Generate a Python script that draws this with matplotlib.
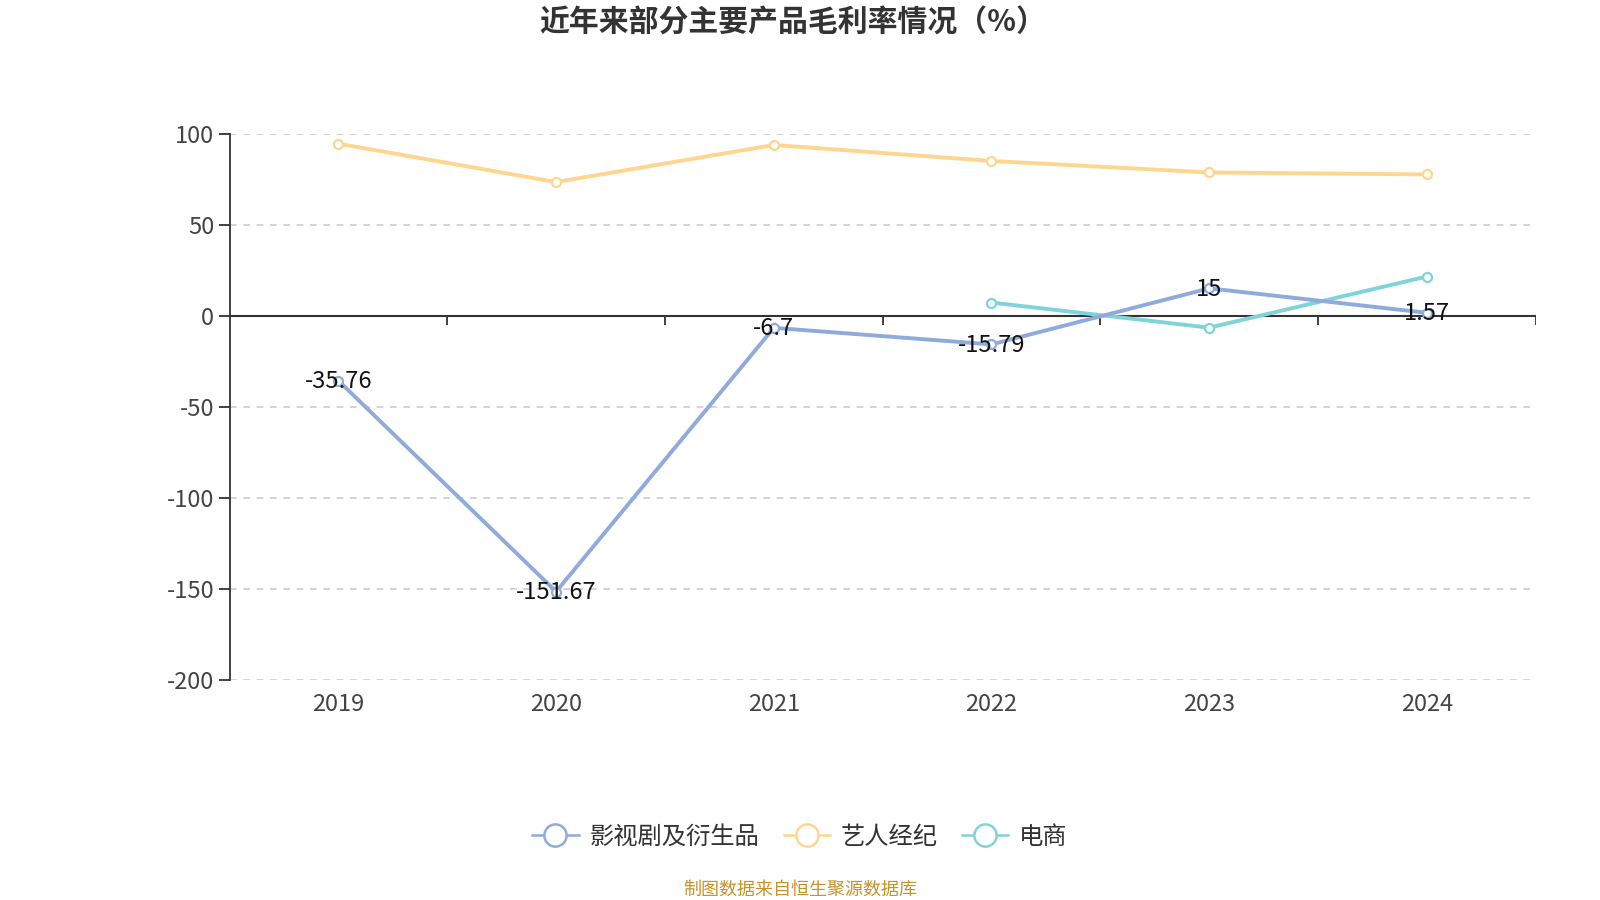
import matplotlib
matplotlib.use("Agg")
import matplotlib.pyplot as plt
from matplotlib.lines import Line2D

plt.rcParams['font.family'] = ['Noto Sans CJK SC', 'DejaVu Sans']

years = ['2019', '2020', '2021', '2022', '2023', '2024']
film = [-35.76, -151.67, -6.7, -15.79, 15, 1.57]
artist = [94.5, 73.4, 93.8, 85.0, 78.7, 77.6]
ecom = [None, None, None, 7.2, -6.6, 21.5]
series_names = ['影视剧及衍生品', '艺人经纪', '电商']
colors = ['#8FAADC', '#FFD68F', '#80D4D9']
yticks = [100, 50, 0, -50, -100, -150, -200]

W, H = 1568, 882
fig = plt.figure(figsize=(16, 9), dpi=100)
ax = fig.add_axes([225 / W, 1 - 666 / H, (1505 - 225) / W, (666 - 131) / H])

x = list(range(len(years)))
ax.set_xlim(-0.5, len(years) - 0.5)
ax.set_ylim(-200, 100)

for yv in yticks:
    if yv != 0:
        ax.axhline(yv, color='#cccccc', lw=1.2, ls=(0, (4, 4)), zorder=0)

def plot_series(vals, color, labels=False):
    xs = [i for i, v in zip(x, vals) if v is not None]
    ys = [v for v in vals if v is not None]
    ax.plot(xs, ys, color=color, lw=2.8, marker='o', ms=6.5, mfc='white',
            mec=color, mew=1.6, zorder=3, solid_capstyle='round')
    if labels:
        for xi, yi in zip(xs, ys):
            ax.annotate(f'{yi:g}', (xi, yi), xytext=(0, -0.5), textcoords='offset points',
                        ha='center', va='center', fontsize=17, color='#111111', zorder=5)

plot_series(artist, colors[1])
plot_series(ecom, colors[2])
plot_series(film, colors[0], labels=True)

# axes styling
for s in ['top', 'right', 'bottom']:
    ax.spines[s].set_visible(False)
ax.spines['left'].set_color('#333333')
ax.spines['left'].set_linewidth(1.3)
ax.set_yticks(yticks)
ax.set_yticklabels([str(v) for v in yticks])
ax.tick_params(axis='y', length=8, width=1.3, color='#333333', labelsize=17,
               labelcolor='#444444', pad=3)
ax.set_xticks(x)
ax.set_xticklabels(years)
ax.tick_params(axis='x', length=0, labelsize=17, labelcolor='#444444', pad=10)

# zero axis line with boundary ticks
ax.axhline(0, color='#333333', lw=1.5, zorder=2)
ax.vlines([i + 0.5 for i in x], -5, 0, color='#333333', lw=1.3, zorder=2)

fig.text(777 / W, 1 - 22 / H, '近年来部分主要产品毛利率情况（%）', ha='center', va='center',
         fontsize=21.5, fontweight='bold', color='#333333')

handles = [Line2D([0], [0], color=c, lw=1.8, marker='o', ms=16, mfc='white', mec=c, mew=1.8)
           for c in colors]
fig.legend(handles, series_names, loc='center', bbox_to_anchor=(784 / W, 1 - 820 / H),
           ncol=3, frameon=False, fontsize=17.5, handlelength=1.9, columnspacing=1.0,
           handletextpad=0.45, labelcolor='#333333')

fig.text(784 / W, 1 - 872 / H, '制图数据来自恒生聚源数据库', ha='center', va='center',
         fontsize=13, color='#C8922A')

fig.savefig('out.png', dpi=100)
